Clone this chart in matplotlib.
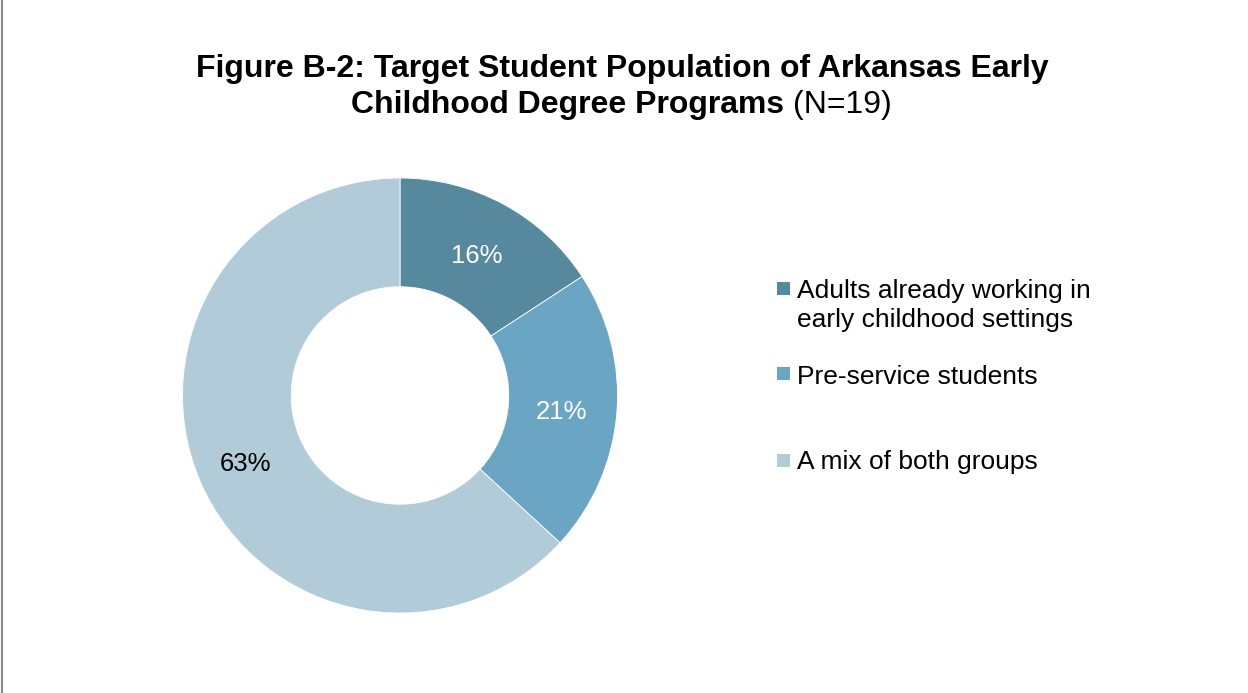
import matplotlib.pyplot as plt
from matplotlib.patches import Rectangle
from matplotlib.lines import Line2D

# data (N=19 programs)
categories = ['Adults already working in\nearly childhood settings',
              'Pre-service students',
              'A mix of both groups']
counts = [3, 4, 12]
colors = ['#56889E', '#6AA5C3', '#B2CBD8']
label_colors = ['white', 'white', 'black']

W, H = 1248, 693
plt.rcParams['font.family'] = ['Liberation Sans', 'DejaVu Sans']

fig = plt.figure(figsize=(W / 100, H / 100), dpi=100)


def px(x, y):
    # pixel position (from top-left) -> figure fraction
    return x / W, 1 - y / H


# donut: centre ~(400, 395.5), outer radius ~217.5 px
cx, cy, r = 400, 395.5, 217.5
ax = fig.add_axes([(cx - r) / W, (H - cy - r) / H, 2 * r / W, 2 * r / H])
wedges, texts, autotexts = ax.pie(
    counts, colors=colors, startangle=90, counterclock=False,
    autopct='%.0f%%', pctdistance=0.745, radius=1,
    wedgeprops=dict(width=0.5, edgecolor='white', linewidth=0.6),
    textprops=dict(fontsize=18.5))
for t, c in zip(autotexts, label_colors):
    t.set_color(c)
    x, y = t.get_position()
    t.set_position((x, y - 0.014))  # small nudge down, like the original
# the big slice's label sits a bit further out
x, y = autotexts[2].get_position()
autotexts[2].set_position((x * 1.04, y))
ax.set_xlim(-1, 1)
ax.set_ylim(-1, 1)
ax.set_aspect('equal')
ax.axis('off')

# title
fig.text(*px(622, 77), 'Figure B-2: Target Student Population of Arkansas Early',
         ha='center', va='baseline', fontsize=23, fontweight='bold')
fig.text(*px(784, 113), 'Childhood Degree Programs', ha='right',
         va='baseline', fontsize=23, fontweight='bold')
fig.text(*px(793, 113), '(N=19)', ha='left', va='baseline', fontsize=23)

# legend drawn by hand (square aligned with first text line)
sq_top = [282, 367, 454]
base_y = [298, 384, 469]
for lab, col, yt, yb in zip(categories, colors, sq_top, base_y):
    fig.patches.append(Rectangle(px(777, yt + 13), 13 / W, 13 / H,
                                 transform=fig.transFigure,
                                 facecolor=col, edgecolor='none'))
    for i, line in enumerate(lab.split('\n')):
        fig.text(*px(797, yb + 29 * i), line, ha='left', va='baseline',
                 fontsize=19)

# grey frame line on the left edge
fig.lines.append(Line2D([2 / W, 2 / W], [0, 1], transform=fig.transFigure,
                        color='#888888', linewidth=1.5))

fig.savefig('out.png', dpi=100)
